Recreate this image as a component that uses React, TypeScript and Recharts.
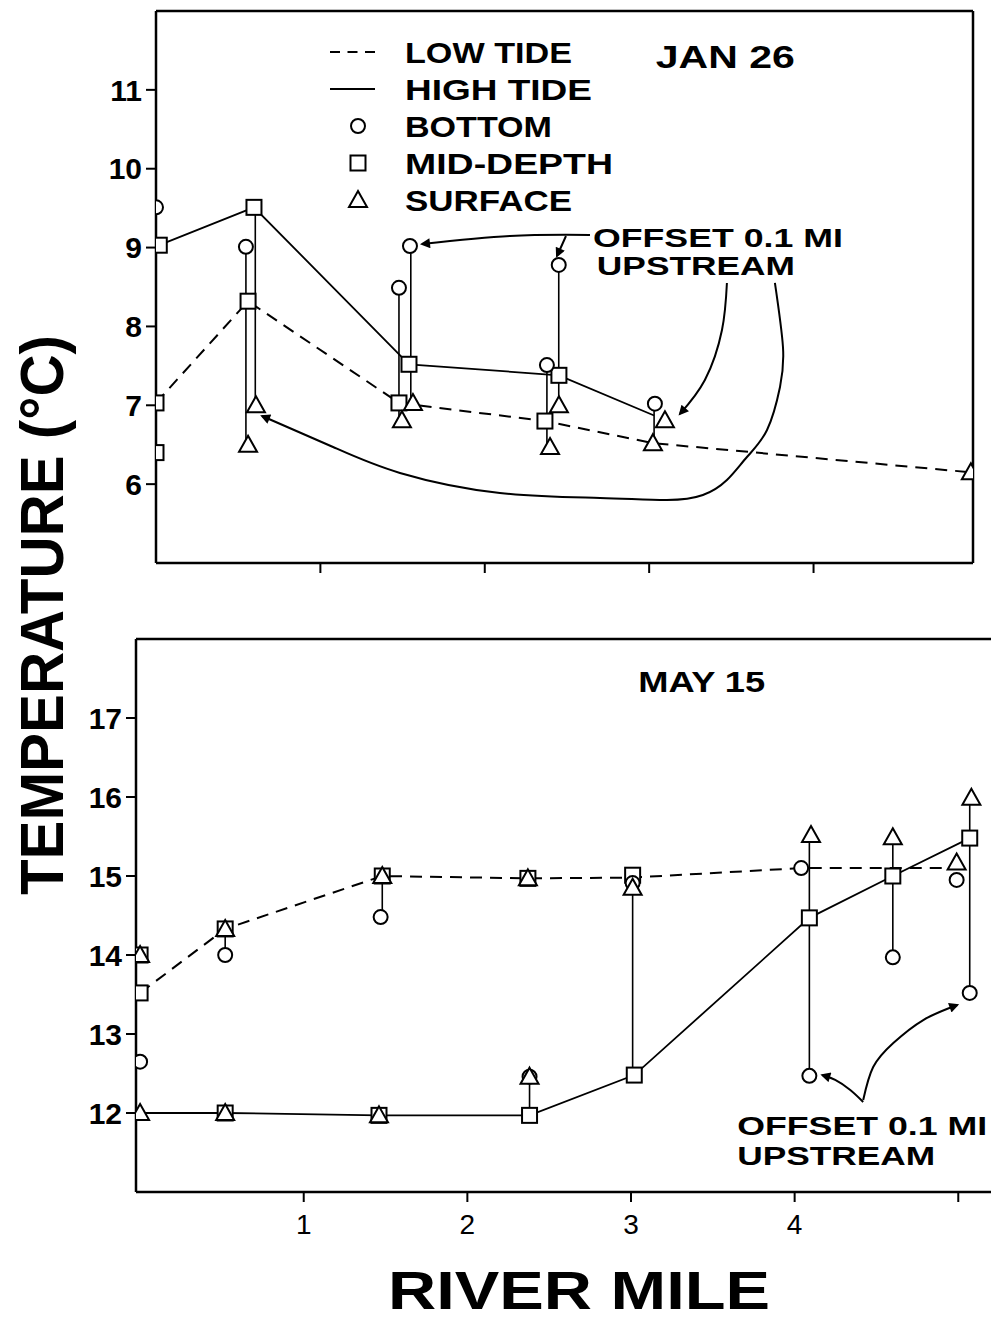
import React from 'react';
import { ComposedChart, Scatter, XAxis, YAxis, Legend } from 'recharts';

const FONT = '"Liberation Sans", Arial, sans-serif';
const INK = '#000';

// ---- JAN 26 (river mile, °C) ----
const janLowTide = [[0, 7.03], [0.56, 8.32], [1.478, 7.03], [2.366, 6.8], [3.023, 6.52], [4.957, 6.15]];
const janHighTide = [[0.02, 9.03], [0.596, 9.51], [1.539, 7.52], [2.451, 7.38], [3.03, 6.87]];
const janBottom = [[0, 9.51], [0.547, 9.01], [1.545, 9.02], [1.478, 8.49], [2.45, 8.78], [2.378, 7.51], [3.035, 7.02]];
const janMid = [[0.02, 9.03], [0, 7.03], [0, 6.4], [0.596, 9.51], [0.56, 8.32], [1.539, 7.52], [1.478, 7.03], [2.451, 7.38], [2.366, 6.8]];
const janSurface = [[0.608, 7.0], [0.56, 6.5], [1.563, 7.03], [1.496, 6.81], [2.451, 7.0], [2.397, 6.47], [3.096, 6.81], [3.023, 6.52], [4.957, 6.15]];
// vertical profile stems: [mile, top, bottom]
const janStems = [[0.547, 9.01, 6.5], [0.604, 9.51, 7.0], [1.478, 8.49, 6.81], [1.55, 9.02, 7.03], [2.378, 7.51, 6.47], [2.45, 8.78, 7.0], [3.03, 7.02, 6.52]];
const janArrows = [
  [[2.64, 9.16], [2.153, 9.147], [1.618, 9.045]],
  [[2.494, 9.147], [2.464, 9.007], [2.439, 8.893]],
  [[3.473, 8.551], [3.443, 7.955], [3.339, 7.321], [3.187, 6.89]],
  [[3.765, 8.551], [3.814, 7.739], [3.796, 7.232], [3.717, 6.687], [3.595, 6.344], [3.473, 6.053], [3.327, 5.863],
   [3.108, 5.799], [2.701, 5.825], [2.092, 5.888], [1.484, 6.142], [1.077, 6.471], [0.645, 6.864]],
];
const janLabels = [
  { x: 3.04, y: 11.28, text: 'JAN 26' },
  { x: 2.658, y: 9.007, text: 'OFFSET 0.1 MI' },
  { x: 2.682, y: 8.652, text: 'UPSTREAM' },
];

// ---- MAY 15 ----
const mayLowTide = [[0, 13.52], [0.52, 14.33], [1.48, 15.0], [2.37, 14.97], [3.01, 14.98], [4.04, 15.1], [4.99, 15.1]];
const mayHighTide = [[0, 12.0], [0.52, 12.0], [1.46, 11.97], [2.38, 11.97], [3.02, 12.48], [4.09, 14.47], [4.6, 15.0], [5.07, 15.48]];
const mayBottom = [[0, 12.65], [0.52, 14.0], [1.47, 14.48], [2.38, 12.46], [3.01, 14.91], [4.04, 15.1], [4.09, 12.47], [4.6, 13.97], [4.99, 14.95], [5.07, 13.52]];
const mayMid = [[0, 14.0], [0, 13.52], [0.52, 14.33], [0.52, 12.0], [1.48, 15.0], [1.46, 11.97], [2.37, 14.97], [2.38, 11.97], [3.01, 15.01], [3.02, 12.48], [4.09, 14.47], [4.6, 15.0], [5.07, 15.48]];
const maySurface = [[0, 14.0], [0, 12.0], [0.52, 14.33], [0.52, 12.0], [1.48, 15.0], [1.46, 11.97], [2.37, 14.97], [2.38, 12.46], [3.01, 14.85], [4.1, 15.52], [4.6, 15.49], [4.99, 15.17], [5.08, 15.99]];
const mayStems = [[0.52, 14.33, 14.0], [1.48, 15.0, 14.48], [2.38, 12.46, 11.97], [3.01, 14.9, 12.48], [4.09, 15.52, 12.47], [4.6, 15.49, 13.97], [5.07, 15.99, 13.52]];
const mayArrows = [
  [[4.419, 12.139], [4.34, 12.291], [4.248, 12.418], [4.169, 12.481]],
  [[4.419, 12.165], [4.48, 12.582], [4.603, 12.886], [4.786, 13.177], [4.994, 13.367]],
];
const mayLabels = [
  { x: 3.044, y: 17.33, text: 'MAY 15' },
  { x: 3.649, y: 11.72, text: 'OFFSET 0.1 MI' },
  { x: 3.649, y: 11.34, text: 'UPSTREAM' },
];

const legendLabels = ['LOW TIDE', 'HIGH TIDE', 'BOTTOM', 'MID-DEPTH', 'SURFACE'];
const legendKinds = ['dash', 'solid', 'circle', 'square', 'triangle'];

const janYTicks = [6, 7, 8, 9, 10, 11];
const mayYTicks = [12, 13, 14, 15, 16, 17];
const janXTicks = [1, 2, 3, 4];
const mayXTicks = [1, 2, 3, 4, 5];

const LABEL_STYLE: Record<string, { size: number; width: number }> = {
  'JAN 26': { size: 31, width: 139 },
  'MAY 15': { size: 30, width: 127 },
  'OFFSET 0.1 MI': { size: 26, width: 250 },
  UPSTREAM: { size: 26, width: 198 },
  'LOW TIDE': { size: 30, width: 167 },
  'HIGH TIDE': { size: 30, width: 187 },
  BOTTOM: { size: 30, width: 147 },
  'MID-DEPTH': { size: 30, width: 208 },
  SURFACE: { size: 30, width: 167 },
};

const pts = (arr: number[][]) => arr.map(([x, y]) => ({ x, y }));

const Empty = () => <g />;
const circleShape = (p: any) => <circle cx={p.cx} cy={p.cy} r={7} fill="#fff" stroke={INK} strokeWidth={2} />;
const squareShape = (p: any) => (
  <rect x={p.cx - 7.5} y={p.cy - 7.5} width={15} height={15} fill="#fff" stroke={INK} strokeWidth={2} />
);
const triangleShape = (p: any) => (
  <path d={`M${p.cx},${p.cy - 9} L${p.cx + 9},${p.cy + 7} L${p.cx - 9},${p.cy + 7} Z`} fill="#fff" stroke={INK} strokeWidth={2} strokeLinejoin="miter" />
);
const textShape = (p: any) => {
  const st = LABEL_STYLE[p.payload.text];
  return (
    <text x={p.cx} y={p.cy} fontFamily={FONT} fontWeight={700} fontSize={st.size} fill={INK}
      textLength={st.width} lengthAdjust="spacingAndGlyphs">
      {p.payload.text}
    </text>
  );
};

function LegendBox() {
  return (
    <svg width={700} height={230} style={{ overflow: 'visible' }}>
      {legendLabels.map((label, i) => {
        const y = 52 + i * 37;
        const kind = legendKinds[i];
        const st = LABEL_STYLE[label];
        return (
          <g key={label}>
            {kind === 'dash' && <line x1={330} x2={375} y1={y} y2={y} stroke={INK} strokeWidth={2} strokeDasharray="10 7.5" />}
            {kind === 'solid' && <line x1={330} x2={375} y1={y} y2={y} stroke={INK} strokeWidth={2} />}
            {kind === 'circle' && circleShape({ cx: 358, cy: y })}
            {kind === 'square' && squareShape({ cx: 358, cy: y })}
            {kind === 'triangle' && triangleShape({ cx: 358, cy: y })}
            <text x={405} y={y + 11} fontFamily={FONT} fontWeight={700} fontSize={st.size}
              textLength={st.width} lengthAdjust="spacingAndGlyphs" fill={INK}>{label}</text>
          </g>
        );
      })}
    </svg>
  );
}

const axisLine = { stroke: INK, strokeWidth: 2.5 };
const tickLine = { stroke: INK, strokeWidth: 2 };
const yTick = { fill: INK, fontSize: 30, fontWeight: 700, fontFamily: FONT };
const xTick = { fill: INK, fontSize: 28, fontWeight: 400, fontFamily: FONT };

function series(
  low: number[][], high: number[][], stems: number[][], arrows: number[][][],
  bottom: number[][], mid: number[][], surface: number[][], labels: any[],
) {
  return [
    <Scatter key="low" data={pts(low)} shape={Empty} isAnimationActive={false}
      line={{ stroke: INK, strokeWidth: 2, strokeDasharray: '12 8' }} />,
    <Scatter key="high" data={pts(high)} shape={Empty} isAnimationActive={false}
      line={{ stroke: INK, strokeWidth: 1.8 }} />,
    ...stems.map(([x, a, b], i) => (
      <Scatter key={`stem${i}`} data={[{ x, y: a }, { x, y: b }]} shape={Empty} isAnimationActive={false}
        line={{ stroke: INK, strokeWidth: 1.6 }} />
    )),
    ...arrows.map((a, i) => (
      <Scatter key={`arr${i}`} data={pts(a)} shape={Empty} isAnimationActive={false} lineJointType="natural"
        line={{ stroke: INK, strokeWidth: 2, markerEnd: 'url(#arrowhead)' } as any} />
    )),
    <Scatter key="mid" data={pts(mid)} shape={squareShape} isAnimationActive={false} />,
    <Scatter key="bottom" data={pts(bottom)} shape={circleShape} isAnimationActive={false} />,
    <Scatter key="surface" data={pts(surface)} shape={triangleShape} isAnimationActive={false} />,
    <Scatter key="labels" data={labels} shape={textShape} isAnimationActive={false} />,
  ];
}

export default function App() {
  return (
    <div style={{ position: 'absolute', left: 0, top: 0, width: 991, height: 1320, overflow: 'hidden', background: '#fff' }}>
      <svg width={0} height={0} style={{ position: 'absolute' }}>
        <defs>
          <marker id="arrowhead" viewBox="0 0 10 10" refX="8" refY="5" markerWidth="6" markerHeight="5" orient="auto">
            <path d="M0,0 L10,5 L0,10 z" fill={INK} />
          </marker>
        </defs>
      </svg>

      <div style={{ position: 'absolute', left: 0, top: 0 }}>
        <ComposedChart width={991} height={600} margin={{ top: 10, right: 17, bottom: 7, left: 96 }}>
          <XAxis type="number" dataKey="x" domain={[0, 4.97]} ticks={janXTicks} tickFormatter={() => ''}
            tickSize={10} height={30} axisLine={axisLine} tickLine={tickLine} allowDataOverflow />
          <XAxis xAxisId="top" orientation="top" type="number" domain={[0, 4.97]} tick={false} tickLine={false}
            height={1} axisLine={axisLine} />
          <YAxis type="number" dataKey="y" domain={[5, 12]} ticks={janYTicks} width={60} tickSize={10}
            tickMargin={4} tick={yTick} axisLine={axisLine} tickLine={tickLine} allowDataOverflow />
          <YAxis yAxisId="right" orientation="right" type="number" domain={[5, 12]} tick={false} tickLine={false}
            width={1} axisLine={axisLine} />
          <Legend layout="horizontal" verticalAlign="middle" align="center"
            wrapperStyle={{ left: 0, top: 0, width: 700, height: 230 }} content={() => <LegendBox />} />
          {series(janLowTide, janHighTide, janStems, janArrows, janBottom, janMid, janSurface, janLabels)}
        </ComposedChart>
      </div>

      <div style={{ position: 'absolute', left: 0, top: 600 }}>
        <ComposedChart width={991} height={720} margin={{ top: 38, right: 0, bottom: 78, left: 76 }}>
          <XAxis type="number" dataKey="x" domain={[-0.025, 5.2]} ticks={mayXTicks}
            tickFormatter={(v: number) => (v === 5 ? '' : String(v))} tickSize={10} tickMargin={12} height={50}
            tick={xTick} axisLine={axisLine} tickLine={tickLine} allowDataOverflow />
          <XAxis xAxisId="top" orientation="top" type="number" domain={[-0.025, 5.2]} tick={false} tickLine={false}
            height={1} axisLine={axisLine} />
          <YAxis type="number" dataKey="y" domain={[11, 18]} ticks={mayYTicks} width={60} tickSize={10}
            tickMargin={4} tick={yTick} axisLine={axisLine} tickLine={tickLine} allowDataOverflow />
          {series(mayLowTide, mayHighTide, mayStems, mayArrows, mayBottom, mayMid, maySurface, mayLabels)}
        </ComposedChart>
      </div>

      <svg width={991} height={1320} style={{ position: 'absolute', left: 0, top: 0, pointerEvents: 'none' }}>
        <text transform="translate(63,615) rotate(-90)" textAnchor="middle" fontFamily={FONT} fontWeight={700}
          fontSize={62} textLength={560} lengthAdjust="spacingAndGlyphs" fill={INK}>TEMPERATURE (°C)</text>
        <text x={579} y={1309} textAnchor="middle" fontFamily={FONT} fontWeight={700} fontSize={54}
          textLength={382} lengthAdjust="spacingAndGlyphs" fill={INK}>RIVER MILE</text>
      </svg>
    </div>
  );
}
